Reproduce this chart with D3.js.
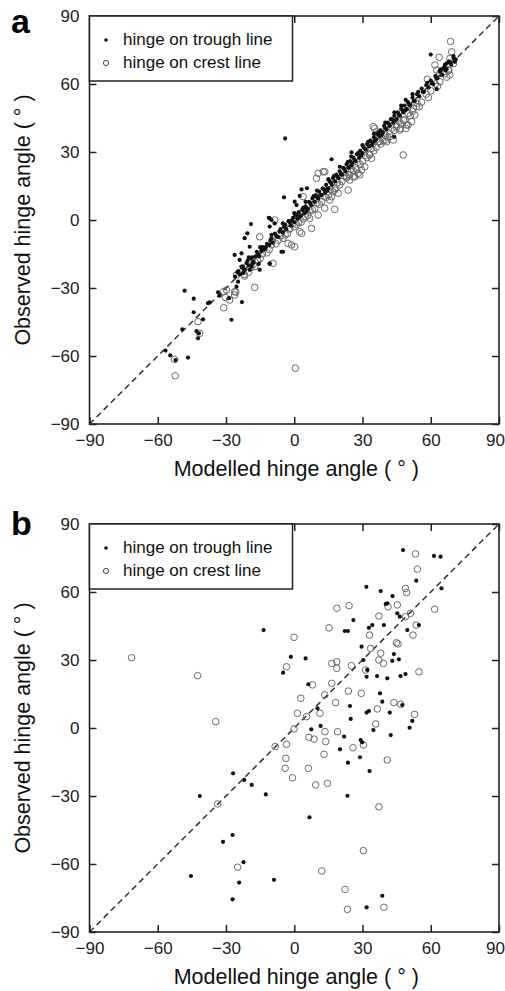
<!DOCTYPE html>
<html>
<head>
<meta charset="utf-8">
<script src="https://cdn.jsdelivr.net/npm/d3@7"></script>
<style>
  body { margin: 0; background: #fff; }
  svg { display: block; font-family: "Liberation Sans", Arial, Helvetica, sans-serif; }
</style>
</head>
<body>
<div id="chart"></div>
<script>
// axis ticks and text
const tickValues = [-90, -60, -30, 0, 30, 60, 90];
const legendLabels = ['hinge on trough line', 'hinge on crest line'];
const xTitle = 'Modelled hinge angle ( \u00b0 )';
const yTitle = 'Observed hinge angle ( \u00b0 )';

// panel a, hinge on trough line: [modelled, observed]
const troughA = [
  [-26, -25], [-25, -23], [-24, -24], [-23, -21], [-22, -22], [-21, -19], [-20, -20], [-19, -17],
  [-18, -18.5], [-17, -16], [-16, -15], [-15.5, -16], [-14, -12], [-13, -13], [-12, -10.5], [-11, -11],
  [-10, -8], [-9.5, -10], [-8, -7], [-7, -7.5], [-6, -4], [-5, -5.5], [-4, -2], [-3.5, -4],
  [-2, -1], [-1.5, -2.5], [-0.5, 1], [0, -1], [0.5, 2], [1.5, 0.5], [2, 3.5], [3, 2],
  [3.5, 4.5], [4.5, 3], [5, 6], [6, 5], [6.5, 8], [7.5, 6.5], [8, 9.5], [9, 8],
  [9.5, 11], [10.5, 9.5], [11, 12.5], [12, 11], [12.5, 14], [13.5, 12], [14, 15.5], [15, 14],
  [15.5, 17], [16.5, 15.5], [17, 18.5], [18, 17], [18.5, 20], [19.5, 18.5], [20, 21.5], [21, 20],
  [21.5, 23], [22.5, 21.5], [23, 24.5], [24, 23], [24.5, 26], [25.5, 25], [26, 27.5], [27, 26],
  [27.5, 29], [28.5, 27.5], [29, 30.5], [30, 29.5], [30.5, 32], [31.5, 31], [32, 33.5], [33, 32.5],
  [33.5, 35], [34.5, 34], [35, 36.5], [36, 35.5], [36.5, 38], [37.5, 37], [38, 39.5], [39, 38.5],
  [39.5, 41.5], [40.5, 40], [41, 43], [42, 41.5], [42.5, 44.5], [43.5, 43], [44, 46], [45, 44.5],
  [45.5, 47.5], [46.5, 46], [47, 49], [48, 47.5], [48.5, 50.5], [49.5, 49], [50, 52], [51, 50.5],
  [52, 54], [53, 52.5], [54, 55.5], [55, 54.5], [56, 58], [57, 56.5], [58, 59.5], [59, 58.5],
  [60, 61.5], [61, 60], [62, 63.5], [63, 62.5], [64, 66], [65, 64], [66, 67.5], [67, 66.5],
  [68, 70], [69, 68.5], [70, 71.5],
  [-24.5, -22.5], [-22.5, -20.5], [-20.5, -18], [-18.5, -16.5], [-16.5, -14], [-14.5, -13.5],
  [-12.5, -12], [-10.5, -9], [-8.5, -6], [-6.5, -5], [-4.5, -3], [-2.5, -0.5], [-1, 0], [1, 2.5],
  [2.5, 1.5], [4, 5.5], [5.5, 4], [7, 7.5], [8.5, 10.5], [10, 10], [11.5, 11], [13, 13.5],
  [14.5, 13], [16, 16.5], [17.5, 19.5], [19, 19], [20.5, 20.5], [22, 22.5], [23.5, 25.5], [25, 24],
  [26.5, 26.5], [28, 29.5], [29.5, 28.5], [31, 31.5], [32.5, 34.5], [34, 33], [35.5, 35], [37, 38.5],
  [38.5, 37.5], [40, 40.5], [41.5, 42.5], [43, 44.5], [44.5, 44], [46, 46.5], [47.5, 48.5], [49, 48.5],
  [50.5, 51], [52.5, 52.5], [54.5, 56.5], [56.5, 56.5], [58.5, 60.5], [60.5, 60.5], [62.5, 62.5],
  [64.5, 66.5], [66.5, 66], [68.5, 69.5],
  [35, 38], [40, 43], [44, 47.5], [47, 50.5], [49, 53], [52, 55.5], [30, 33], [25, 28],
  [20, 23.5], [15, 18], [10, 13], [5, 8], [0, 3], [-5, -1.5], [-10, -6.5], [-15, -12], [-20, -16.5],
  [-4, 36], [-4.5, 10], [16.4, 26.8], [25.2, 29.8], [44, 36.7], [62.6, 57.7], [60, 73],
  [70, 72.3], [71, 70.9], [70.6, 69.8], [65.5, 66.9], [64, 65.4], [66.2, 68.4], [67, 69.1],
  [-48.2, -31.2], [-44.2, -34.7], [-44.2, -40.7], [-40.1, -43.8], [-43, -49], [-41.9, -50],
  [-42.3, -52.2], [-49.2, -48.2], [-56.6, -57.6], [-54.5, -59.7], [-52.2, -61.8], [-46.7, -60.7],
  [-27.6, -44], [-23, -36.2], [-33.5, -31.9], [-32.8, -33.4], [-37.2, -36.3], [-37.9, -36.7],
  [-28.7, -34.5], [-25.4, -29.4], [-24.7, -27.2], [-22.5, -23.5], [-21.8, -22], [-23.2, -20.6],
  [-18.1, -19.1], [-15.6, -19.4], [-15.2, -22], [-10.8, -19.4], [-19.6, -22], [-18.8, -20.6],
  [-19, -1.8], [-21.8, -8], [-20.6, -5.9], [-19.6, -11.8], [-26.2, -15.4], [-23.2, -14.7],
  [-24, -17.6], [-5.6, -14], [-11.2, 1], [-10.8, 0.7], [-10, 0], [-8.6, -1.5], [-10.8, -2.9],
  [3.2, 13.5], [5.6, 14], [2.4, 10.6], [0.2, 8.1], [1, 6.6], [-4.9, -14], [-10.8, -19.1]
];

// panel a, hinge on crest line
const crestA = [
  [-22, -24], [-20, -23], [-18, -19.5], [-16, -18], [-14, -15], [-12, -14.5], [-10, -11], [-8, -10.5],
  [-6, -7], [-4, -6.5], [-2, -4], [0, -3], [1, -2], [3, -1], [4, 0.5], [6, 2],
  [7, 4], [9, 5], [10, 7.5], [12, 8], [13, 10.5], [15, 11], [16, 13.5], [18, 14],
  [19, 16.5], [21, 17], [22, 19.5], [24, 20], [25, 22.5], [27, 23], [28, 25.5], [30, 26],
  [31, 28.5], [33, 29], [34, 31.5], [36, 32], [37, 34.5], [39, 35], [40, 37.5], [42, 38],
  [43, 40.5], [45, 41], [46, 43.5], [48, 44], [50, 47], [52, 48], [54, 51.5], [56, 52],
  [58, 55.5], [60, 57], [62, 60], [64, 61], [66, 64.5], [68, 66], [70, 69],
  [-19, -21], [-15, -17], [-11, -13], [-7, -9], [-3, -6], [2, -1], [5, 1.5], [8, 4.5],
  [11, 7], [14, 10], [17, 12.5], [20, 15.5], [23, 18.5], [26, 21.5], [29, 24.5], [32, 27.5],
  [35, 30.5], [38, 33.5], [41, 36.5], [44, 39.5], [47, 42.5], [51, 46], [55, 50], [59, 54],
  [63, 59], [67, 63],
  [0.5, -65.4], [-52.3, -68.7], [-52.6, -61.5], [-42.3, -44.9], [-41.6, -50], [-31, -38.7],
  [-30.3, -34.1], [-31, -31.6], [-26.2, -33.1], [-25.7, -31.8], [-17.4, -29.7], [-9.3, -19.1],
  [-25.4, -24.3], [-21.8, -24.7], [-17.4, -20.6], [-8.6, 0], [-15.2, -7.4], [47.9, 28.7],
  [68.7, 78.8], [69.2, 74.2], [68.4, 71.3], [63.7, 71.8], [61.8, 68.4], [62.6, 66.2], [64, 64.7],
  [68.4, 64], [67.7, 66.2], [58.5, 62.1], [52.3, 49.3], [53.8, 50], [53, 46.3], [51.6, 43.4],
  [50.1, 41.9], [48.6, 44.1], [49.1, 40.4], [46.7, 40.4], [44.9, 41.9], [35.4, 40.4], [36.2, 38.9],
  [40.3, 35.3], [42, 36.7], [37.6, 34.5], [34.7, 33.8], [33.2, 28.7], [34, 27.2], [31, 23.5],
  [29.6, 22.1], [28.1, 20.6], [26.6, 19.1], [24.4, 19.9], [10.5, 20.6], [13.4, 21.3], [12.7, 21.3],
  [9.8, 18.4], [3.9, 10.3], [23.7, 13.2], [17.8, 13.2], [19.3, 11.8], [16.4, 10.3], [15.6, 8.8],
  [17.8, 4.7], [13.4, 5.2], [10.5, 2.2], [6.8, 0.7], [7.6, -3.7], [3.2, -5.9], [2.4, -5.2],
  [-2, -3.7], [-0.5, -1.5], [-4.9, -8.1], [-2.7, -10.3], [-1.2, -11], [0.2, -11.8],
  [-29.8, -30.9], [-26.2, -31.6], [-28.4, -35.3], [34.7, 41.2], [36.9, 38.2], [40.6, 34.5],
  [43.5, 35.3], [46.4, 39.7], [49.4, 41.9], [27.4, 22.1], [28.8, 19.9], [25.9, 19.1],
  [23, 19.1], [24.4, 17.6]
];

// panel b, hinge on trough line
const troughB = [
  [-13.5, 43.2], [-1.5, 31.4], [5, 30.7], [-4.9, 24.4], [47.8, 78.5], [61.4, 75.9], [64.3, 75.6],
  [53.6, 65], [64.7, 61.6], [31.7, 62.3], [38, 60.4], [43.2, 58.2], [40.9, 55], [40.2, 54.7],
  [45.3, 50.6], [46.4, 49.1], [26, 47.6], [34.3, 45.4], [32.8, 44.2], [39.4, 45.4], [22.2, 42.8],
  [23.6, 42.8], [49.7, 43.2], [54.8, 45.4], [29.6, 35.9], [43.8, 32.6], [46, 30.3], [43.1, 29.6],
  [30.4, 30], [32.1, 25.6], [31.8, 22.6], [36.4, 22.9], [40.9, 21.9], [46.7, 22.9], [48.9, 23.8],
  [6.2, 19.3], [37.7, 15.3], [38.7, 11.6], [24.5, 9.7], [47.5, 10.1], [51.9, 3.1], [50.7, 0.1],
  [42, 6.8], [32.8, 7.5], [31.8, 6.8], [24.8, 4], [11.6, 0.9], [7.5, -0.6], [10.2, 8.7],
  [21.9, -3.8], [29.2, -5.3], [29.9, -6.3], [34.8, -0.9], [42.4, -3.1], [20.1, -9.4], [23.6, -15.3],
  [28.9, -12.9], [33.1, -19], [23.4, -29.9], [-26.9, -20], [-22, -22.9], [-18.7, -25.1],
  [-12.5, -29.3], [-41.5, -30], [6.7, -39.4], [-27.1, -47.2], [-31.3, -50.2], [-22.3, -59.2],
  [-45.4, -65.3], [-24.2, -68.2], [-8.9, -67], [38.7, -74], [-27.1, -75.6], [31.8, -79.1]
];

// panel b, hinge on crest line
const crestB = [
  [-0.1, 40], [15.3, 44.2], [18.7, 52.8], [-71.5, 31], [-42.5, 23.1], [-34.5, 2.8], [-3.4, 27],
  [53.3, 76.8], [54.1, 70.1], [48.9, 61.6], [49.4, 59.7], [41.2, 53.5], [45.3, 54.3], [24.1, 54],
  [61.7, 52.4], [51.1, 50.6], [48.9, 49.1], [37.2, 49.4], [53.6, 45.4], [52.2, 41], [33.1, 41],
  [33.6, 35.1], [44.9, 37.6], [45.6, 37.1], [38, 33], [39.2, 28.5], [37.2, 30], [16.5, 28.5],
  [18.7, 29.2], [18.7, 26.3], [25.1, 27.5], [31.4, 25.6], [54.8, 24.8], [8, 19], [16.5, 19.7],
  [13.4, 14.6], [23.8, 16.3], [29.5, 15.3], [18.2, 11.2], [43.8, 11.2], [46.8, 10.5], [52.9, 6],
  [36.5, 8.4], [35.8, 1.8], [2.9, 13.1], [1.4, 6.5], [5.4, 5], [11.3, 6.5], [-0.1, -0.4],
  [6.5, -4.1], [8.7, -4.9], [13.5, -1.6], [13.8, -6], [19, -1.6], [30.4, -7.5], [13.1, -11.6],
  [25.8, -8.7], [40.9, -14.1], [6.2, -17.8], [-0.8, -22], [9.4, -25.1], [14.6, -24.4], [-8.4, -8.2],
  [-3.4, -7.2], [-3.7, -13.4], [-4, -17.8], [37.2, -34.8], [-33.7, -33.5], [30.4, -54.1],
  [-24.9, -61.4], [12.1, -63.1], [22.3, -71.2], [23.4, -80], [39.4, -79.1]
];

const cfg = {
  width: 505,
  height: 991,
  left: 89.5,
  right: 499,
  size: 408,
  tickLen: 7
};

const panels = [
  { letter: 'a', trough: troughA, crest: crestA, top: 16 },
  { letter: 'b', trough: troughB, crest: crestB, top: 524 }
];

const svg = d3.select('#chart')
  .append('svg')
  .attr('width', cfg.width)
  .attr('height', cfg.height);

function styleAxis(sel) {
  sel.select('.domain').remove();
  sel.selectAll('.tick line').attr('stroke', '#222').attr('stroke-width', 1.5);
  sel.selectAll('.tick text')
    .attr('fill', '#222')
    .style('font-size', '17px')
    .style('font-family', '"Liberation Sans", Arial, sans-serif');
}

function drawPanel(p) {
  const x = d3.scaleLinear().domain([-90, 90]).range([cfg.left, cfg.right]);
  const y = d3.scaleLinear().domain([-90, 90]).range([p.top + cfg.size, p.top]);
  const g = svg.append('g');

  // 1:1 line
  g.append('line')
    .attr('x1', x(-90)).attr('y1', y(-90))
    .attr('x2', x(90)).attr('y2', y(90))
    .attr('stroke', '#333')
    .attr('stroke-width', 1.5)
    .attr('stroke-dasharray', '6,4');

  g.append('g').selectAll('circle')
    .data(p.crest)
    .enter()
    .append('circle')
    .attr('cx', d => x(d[0]))
    .attr('cy', d => y(d[1]))
    .attr('r', 3.3)
    .attr('fill', 'none')
    .attr('stroke', '#6a6a6a')
    .attr('stroke-width', 1);

  g.append('g').selectAll('circle')
    .data(p.trough)
    .enter()
    .append('circle')
    .attr('cx', d => x(d[0]))
    .attr('cy', d => y(d[1]))
    .attr('r', 2.1)
    .attr('fill', '#111');

  // axes, ticks pointing inwards on all four sides
  g.append('g')
    .attr('transform', `translate(0,${y(-90)})`)
    .call(d3.axisBottom(x).tickValues(tickValues).tickSize(-cfg.tickLen).tickPadding(10))
    .call(styleAxis)
    .selectAll('.tick text')
    .filter(d => d == 90)
    .attr('text-anchor', 'end')
    .attr('x', 5.5);
  g.append('g')
    .attr('transform', `translate(${x(-90)},0)`)
    .call(d3.axisLeft(y).tickValues(tickValues).tickSize(-cfg.tickLen).tickPadding(10))
    .call(styleAxis);
  g.append('g')
    .attr('transform', `translate(0,${y(90)})`)
    .call(d3.axisTop(x).tickValues(tickValues).tickSize(-cfg.tickLen).tickFormat(''))
    .call(styleAxis);
  g.append('g')
    .attr('transform', `translate(${x(90)},0)`)
    .call(d3.axisRight(y).tickValues(tickValues).tickSize(-cfg.tickLen).tickFormat(''))
    .call(styleAxis);

  g.append('rect')
    .attr('x', x(-90)).attr('y', y(90))
    .attr('width', x(90) - x(-90))
    .attr('height', y(-90) - y(90))
    .attr('fill', 'none')
    .attr('stroke', '#222')
    .attr('stroke-width', 1.6);

  // legend box
  const lg = g.append('g');
  lg.append('rect')
    .attr('x', x(-90)).attr('y', y(90))
    .attr('width', 203).attr('height', 65)
    .attr('fill', '#fff')
    .attr('stroke', '#222')
    .attr('stroke-width', 1.5);
  lg.append('circle')
    .attr('cx', 106).attr('cy', p.top + 24)
    .attr('r', 1.8).attr('fill', '#111');
  lg.append('circle')
    .attr('cx', 106).attr('cy', p.top + 47)
    .attr('r', 2.6).attr('fill', 'none')
    .attr('stroke', '#444').attr('stroke-width', 1);
  lg.selectAll('text')
    .data(legendLabels)
    .enter()
    .append('text')
    .attr('x', 123)
    .attr('y', (d, i) => p.top + 29 + i * 23)
    .attr('fill', '#111')
    .style('font-size', '17px')
    .text(d => d);

  // titles
  g.append('text')
    .attr('x', (x(-90) + x(90)) / 2 + 2)
    .attr('y', y(-90) + 52)
    .attr('text-anchor', 'middle')
    .attr('fill', '#111')
    .style('font-size', '21.5px')
    .text(xTitle);
  g.append('text')
    .attr('transform', `translate(30,${y(0)}) rotate(-90)`)
    .attr('text-anchor', 'middle')
    .attr('fill', '#111')
    .style('font-size', '21.5px')
    .text(yTitle);

  g.append('text')
    .attr('x', 11)
    .attr('y', p.top + (p.letter == 'a' ? 17 : 11))
    .attr('fill', '#000')
    .style('font-size', '34px')
    .style('font-weight', 'bold')
    .text(p.letter);
}

panels.forEach(drawPanel);
</script>
</body>
</html>
